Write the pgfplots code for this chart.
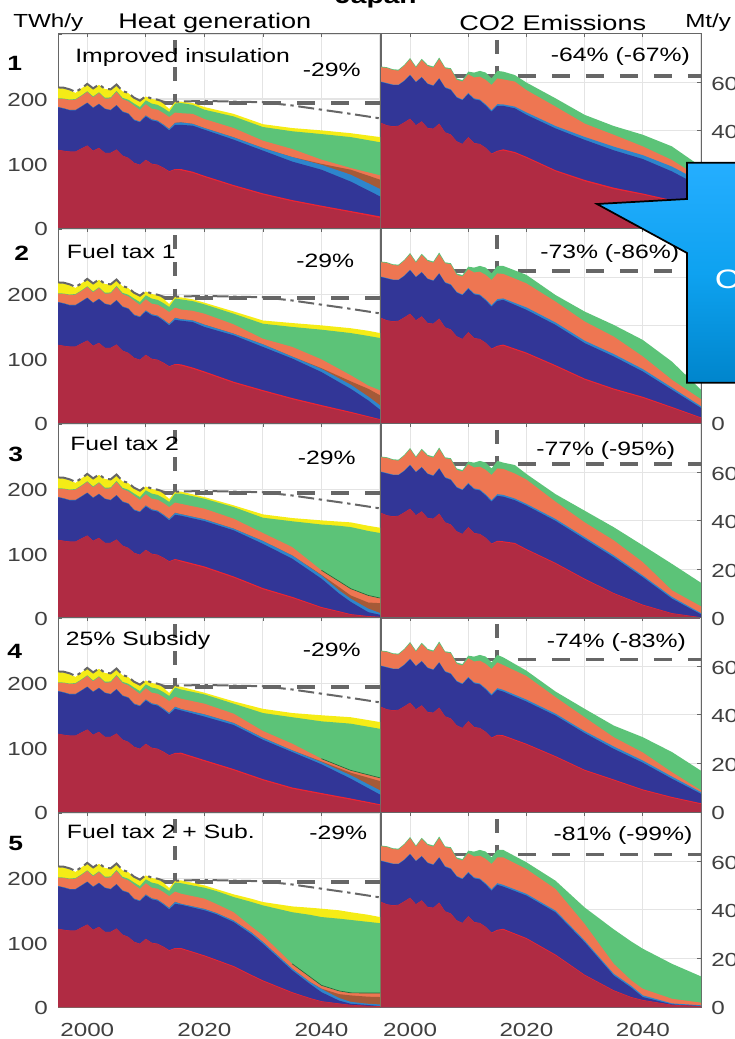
\documentclass[border=0pt]{standalone}
\usepackage{fontspec}
\setmainfont[FakeStretch=1.28]{Liberation Sans}
\usepackage{pgfplots}
\usepackage{pgfplotstable}
\pgfplotsset{compat=1.18}
\definecolor{cDR}{HTML}{B02B43}
\definecolor{cR}{HTML}{EE2433}
\definecolor{cNV}{HTML}{323697}
\definecolor{cBL}{HTML}{2E85CC}
\definecolor{cBR}{HTML}{A55A38}
\definecolor{cOR}{HTML}{EE7652}
\definecolor{cGR}{HTML}{5CC378}
\definecolor{cYE}{HTML}{F5EC16}
\definecolor{cDG}{HTML}{1E6B3A}
\definecolor{cDash}{HTML}{666666}
\definecolor{cTick}{HTML}{404040}
\definecolor{cGrid}{HTML}{E4E4E4}
\definecolor{cFrame}{HTML}{666666}
\definecolor{cBlueTop}{HTML}{25AEFF}
\definecolor{cBlueMid}{HTML}{0EA2F0}
\definecolor{cBlueBot}{HTML}{0085CC}
\def\histH{y dr r nv bl br or gr ye\\
1995 121 121.3 187 187.6 187.6 200.5 201.2 217\\
1996 119.4 119.7 185 185.6 185.6 200 200.7 216.5\\
1997 118.3 118.6 182.4 183 183 198.5 199.2 213.4\\
1998 118.3 118.6 182.4 183 183 199 200 209.5\\
1999 123 123.3 188 188.6 188.6 204.6 205.6 216.5\\
2000 127.6 127.9 193.8 194.4 194.4 210.9 212 223\\
2001 119.4 119.7 186 186.6 186.6 202.6 204 216\\
2002 124 124.3 192 192.6 192.6 209.3 210.5 222\\
2003 116.3 116.6 184.5 185.1 185.1 200.5 202 215.5\\
2004 116.3 116.6 182.4 183 183 201 202.5 214.5\\
2005 121.4 121.7 190 190.6 190.6 210.9 212.5 222\\
2006 112 112.3 180 180.8 180.8 200 202 212\\
2007 108.5 108.8 177 177.8 177.8 196.4 199 209\\
2008 100.8 101.1 167 168 168 189.7 193 201.6\\
2009 97.7 98 164 165 165 183 187.5 197\\
2010 105.4 105.8 173 174.5 174.5 192 198 204\\
2011 99.2 99.7 167 168.5 168.5 185 193 200\\
2012 97.7 98.2 165 166.5 166.5 183.5 191 198.5\\
2013 93 93.6 158.7 160.5 160.5 178.3 186 192.8\\
2014 87.3 88 151.4 153.5 153.5 172 180 184.5\\
2015 90.5 91.5 160 163 163 179 193 195.5\\
}
\def\histC{y dr r nv bl or gr\\
1995 43.2 43.3 60.1 60.3 66.2 66.5\\
1996 42.2 42.3 59.5 59.7 65.9 66.2\\
1997 41.8 41.9 58.9 59.1 65.1 65.4\\
1998 42 42.1 58.8 59 64.8 65.2\\
1999 43.4 43.5 60.5 60.7 66.8 67.2\\
2000 44.9 45 62.9 63.1 69.5 70\\
2001 42.2 42.3 60 60.2 66 66.5\\
2002 43.8 43.9 62 62.2 69.2 69.7\\
2003 41.1 41.2 59.3 59.5 66.7 67.2\\
2004 40.8 40.9 58.5 58.7 66 66.5\\
2005 42.9 43 61.5 61.7 69.5 70.2\\
2006 39.3 39.4 57.7 58 65.8 66.2\\
2007 38.4 38.5 56.8 57.1 65.3 65.8\\
2008 35.6 35.7 53.7 54 61 61.6\\
2009 34.5 34.6 52.6 52.9 60.3 60.9\\
2010 37.3 37.4 55.2 55.6 63.3 64.4\\
2011 34.9 35 53 53.4 62 64\\
2012 34.5 34.6 52.5 52.9 62.3 64.7\\
2013 32.9 33 50.4 50.9 61 64\\
2014 30.4 30.6 47.9 48.5 58.9 61.6\\
2015 31.5 31.8 50.3 51 61.6 64.7\\
}
\def\readtable#1{\pgfplotstableread[row sep=\\]{#1}\cur}
\def\lyr#1#2{\addplot[fill=#1,draw=none,forget plot] table[x=y,y=#2]{\cur} \closedcycle;}
\def\fs{\fontsize{14.2}{16}\selectfont}
\pgfplotsset{panel/.style={
  scale only axis,anchor=south west,height=146.06pt,
  xmin=1995,xmax=2050,xtick={2000,2010,2020,2030,2040,2050},
  grid=major,major grid style={cGrid,line width=0.8pt},
  tick align=inside,major tick length=3pt,tick style={cFrame,line width=0.6pt},
  axis line style={cFrame,line width=0.7pt},
  tick label style={font=\fs,text=cTick},
  xticklabel style={anchor=north,inner sep=0pt,yshift=-12pt},
  xtick pos=both,
  xticklabel pos=lower,
}}
% #1 bottom (pt), #2 x tick labels, #3 dashed level, #4 future rows, #5 extra plots
\newcommand\heat[5]{%
  \expandafter\def\expandafter\rows\expandafter{\histH #4}%
  \expandafter\readtable\expandafter{\rows}%
  \begin{axis}[panel,at={(43.5pt,#1pt)},width=241.5pt,ymin=0,ymax=302,
    ytick={0,100,200,300},yticklabels={0,100,200,},
    xticklabels={#2},ytick pos=left,
    yticklabel style={anchor=east,inner sep=0pt,xshift=-7.5pt,yshift=-1pt}]
    \addplot[cDash,line width=3.1pt,dash pattern=on 10.5pt off 9.5pt,forget plot] coordinates {(2015,291) (2015,0)};
    \addplot[cDash,line width=2.6pt,dash pattern=on 13.5pt off 12pt,forget plot] coordinates {(2001,#3) (2050,#3)};
    \lyr{cYE}{ye}\lyr{cGR}{gr}\lyr{cOR}{or}\lyr{cBR}{br}\lyr{cBL}{bl}\lyr{cNV}{nv}\lyr{cR}{r}\lyr{cDR}{dr}
    #5
    \addplot[cDash,line width=1.5pt,dash pattern=on 12pt off 3.5pt on 2.5pt off 3.5pt,forget plot] coordinates {(1995,218) (1996,217.5) (1997,215) (1998,211) (1999,216.5) (2000,223.5) (2001,216.5) (2002,222.5) (2003,216) (2004,215) (2005,222.5) (2006,212.5) (2007,209.5) (2008,202) (2009,197.5) (2010,204.5) (2011,200.5) (2012,199) (2013,196) (2014,194) (2015,196) (2020,197) (2025,196) (2030,195) (2035,190) (2040,183.5) (2045,177) (2050,170)};
  \end{axis}}
\newcommand\cotwo[4]{%
  \expandafter\def\expandafter\rows\expandafter{\histC #4}%
  \expandafter\readtable\expandafter{\rows}%
  \begin{axis}[panel,at={(285.75pt,#1pt)},width=240pt,ymin=0,ymax=80.2,
    ytick={0,20,40,60,80},yticklabels={0,20,40,60,},
    xticklabels={#2},ytick pos=right,yticklabel pos=right,
    yticklabel style={anchor=west,inner sep=0pt,xshift=7.5pt,yshift=-1pt}]
    \addplot[cDash,line width=3.1pt,dash pattern=on 10.5pt off 9.5pt,forget plot] coordinates {(2015,77.5) (2015,0)};
    \addplot[cDash,line width=2.6pt,dash pattern=on 13.5pt off 12pt,forget plot] coordinates {(2001,#3) (2050,#3)};
    \lyr{cGR}{gr}\lyr{cOR}{or}\lyr{cBL}{bl}\lyr{cNV}{nv}\lyr{cR}{r}\lyr{cDR}{dr}
  \end{axis}}
\newcommand\tx[3]{\node[anchor=base west,inner sep=0pt] at ({#1*0.75pt},{-#2*0.75pt}) {#3};}
\begin{document}
\begin{tikzpicture}
\path[clip,use as bounding box] (0,0) rectangle (551.25pt,-779.25pt);
% ---- heat generation
\heat{-171}{}{194}{2016 89.4 91.4 160 163.8 163.8 178 193.8 196\\
2018 85.3 87.3 158.7 161.5 161.5 177 191 193.8\\
2020 79 81 152.5 155 155 169 183.5 187.6\\
2025 64.6 66.6 137 140.6 140.6 155 173 177\\
2030 51.7 53.7 120 124 124 135.4 156.6 161\\
2035 41.3 43.3 103 110 110 122.5 150 155\\
2040 32.6 34.6 90.4 98 99.5 106 145.7 151.4\\
2045 24.3 26.3 72 82.7 90.4 93 141 147\\
2050 15.5 18 49 60.5 75 81.7 133 141\\
}{}
\heat{-317.25}{}{194}{2016 89 91 158.7 161 161 176 191.7 194.8\\
2018 84 86 156.6 159 159 174 189 191.8\\
2020 78 80 149 152.5 152.5 169.5 184 186.6\\
2025 62 64 136 138.5 138.5 153 169.5 173\\
2030 49 51 118 122 122 130.7 154 159\\
2035 36.7 38.7 100 103 103 118 149 155\\
2040 25.8 27.8 79 84 85 98.7 144.7 151.4\\
2045 15.5 17.3 53 59.4 64.6 74 139.5 147\\
2048 9 10.5 35 41 53 58 135 143\\
2050 5 6 20.7 27.4 43 50.6 131.8 139.5\\
}{}
\heat{-463.5}{}{194}{2016 87.3 89.3 158.7 161 161 177 192.8 196\\
2020 78 80 150.4 153 153 169.5 185 187.6\\
2025 62.5 64.5 136 138.5 138.5 154 172 174.7\\
2030 44.4 46.4 115 119.4 119.4 131.8 155.5 160.7\\
2035 31 32.8 92 97 97 110 150 155\\
2040 15.5 17 61 66 67 74 145 151.4\\
2043 9.3 10.5 38 43 48 57 143 149.5\\
2045 5 6 25 30 35 45.5 141 148.3\\
2048 2.5 3 9 14.5 24 35 135 143\\
2050 1.5 1.8 5 7.8 23 31 131.8 140\\
}{\addplot[cDG,line width=0.5pt,forget plot] coordinates {(2040,74) (2043,57) (2045,45.5) (2048,35) (2050,31)};}
\heat{-609}{}{194}{2016 90 92 157.6 159.7 159.7 175.7 190 194.3\\
2020 78.6 80.6 148 151.4 151.4 168 182.4 185\\
2025 64.6 66.6 135 138 138 152.5 168 171.6\\
2030 49 51 112 115 115 125.6 153.5 160\\
2035 36 38 93 95.6 95.6 106 147 153.5\\
2040 27.4 29.4 74 77.5 78.5 82.7 140.6 150\\
2045 19 21 51.7 57 61 64.6 137 147\\
2050 10.3 12 27 33.6 48 53 129 139.5\\
}{\addplot[cDG,line width=0.5pt,forget plot] coordinates {(2040,82.7) (2045,64.6) (2050,53)};}
\heat{-755.25}{2000,,2020,,2040,}{194}{2016 90 91.5 158.7 160 160 175.7 192 196.4\\
2020 78.6 80.1 150 152 152 168 185 188.6\\
2022 72 73.5 144 146 146 160 180 183\\
2025 62 63.5 131.8 134 134 147 170.5 174.7\\
2028 48.5 50 113 115.8 115.8 125 163 168\\
2030 39.8 41.3 98 100.8 100.8 111 157.6 162.8\\
2035 21.7 23 56.8 59.4 59.4 67 147 156\\
2038 13 14 36 39 39 47 143 154\\
2040 8.3 9 23 28 28.5 33.6 139.5 152.5\\
2043 5 5.5 10 14 20 25 137 150\\
2045 3 3.3 5 8 18 22 135 147\\
2048 1.5 1.7 3 5 16 21.7 132 143\\
2050 1 1.2 1.5 4 15.5 21.7 130 139.5\\
}{\addplot[cDG,line width=0.5pt,forget plot] coordinates {(2035,67) (2038,47) (2040,33.6) (2043,25) (2045,22) (2048,21.7) (2050,21.7)};}
% ---- CO2 emissions
\cotwo{-171}{}{62.6}{2016 31.9 32.4 50.3 50.9 61.2 64.4\\
2018 30.8 31.3 49.3 50 60.3 63\\
2020 28.8 29.3 46.6 47.6 56.8 59.9\\
2025 23.3 23.8 41 42 50 53.4\\
2030 19.2 19.8 36.3 37.5 43 46.6\\
2035 16 16.6 32 33.5 38.4 42\\
2040 13.7 14.2 28.4 30 33.6 38.4\\
2045 11 11.5 23.3 25.3 28 33.6\\
2050 8 8.4 17 19 20.5 25.3\\
}
\cotwo{-317.25}{}{62.6}{2016 31.8 32.3 50.7 51.3 61.4 64.7\\
2020 28.5 29 46.6 47.6 57.5 61\\
2025 23.3 23.8 40.4 41.4 50 52.7\\
2030 17.8 18.3 32.9 33.9 41.8 45.9\\
2035 13.7 14.2 27.4 28.4 35.6 40.4\\
2040 10.3 10.8 21.2 22.2 27.4 34.2\\
2045 6.2 6.6 13.7 14.6 17.8 25.3\\
2050 2 2.3 6.2 6.9 9.8 13.7\\
}
\cotwo{-463.5}{}{63.4}{2016 31.2 31.6 50 50.7 61.4 64\\
2018 30.5 30.9 48.5 49.2 59.5 63\\
2020 28 28.4 46.3 47 57 59.3\\
2025 22.3 22.7 40 40.8 47.9 51\\
2030 15.8 16.2 32.5 33.3 39.4 44.2\\
2035 10 10.3 25 25.8 32 37.4\\
2040 5.2 5.5 16.8 17.5 23 29.9\\
2045 1.8 2 8 8.7 11.4 22.3\\
2050 0.2 0.3 1.5 2 4.8 14.5\\
}
\cotwo{-609}{}{62.7}{2016 31.2 31.6 49.6 50.3 60.5 63.7\\
2020 27.7 28.1 45.5 46.3 56 58.2\\
2025 22.6 23 39.7 40.5 47.3 49.6\\
2030 17 17.4 32.5 33.3 39 42.5\\
2035 13 13.4 26 27 30.8 35.6\\
2040 8.9 9.3 20.3 21.2 24.5 30.8\\
2045 5.8 6.2 13.7 14.6 16.4 24.7\\
2050 3.2 3.6 7.5 8.2 8.9 17\\
}
\cotwo{-755.25}{2000,,2020,,2040,}{62.7}{2016 31.8 32.2 49.6 50.3 61.6 64.7\\
2020 28 28.4 45.9 46.6 56.8 59.6\\
2025 21.2 21.6 39 39.7 48.6 52\\
2030 13 13.3 26.7 27.4 34.2 41\\
2035 6.6 6.9 13 13.7 17.8 32\\
2038 3.9 4.1 8 8.7 11 27\\
2040 2.7 2.9 4.1 4.8 7.5 24\\
2045 0.8 0.9 1.1 1.5 3.4 17.8\\
2050 0.3 0.35 0.4 0.7 1.8 12.6\\
}
% ---- texts
\fs
\tx{13}{27}{TWh/y}
\tx{118}{28.3}{\fontsize{15.9}{18}\selectfont Heat generation}
\tx{459}{30}{\fontsize{15.9}{18}\selectfont CO2 Emissions}
\tx{685}{27}{Mt/y}
\tx{335}{3}{\fontsize{16.5}{18}\selectfont\bfseries Japan}
\tx{7}{70}{\fontsize{15.5}{18}\selectfont\bfseries 1}
\tx{14}{260}{\fontsize{15.5}{18}\selectfont\bfseries 2}
\tx{8}{461.7}{\fontsize{15.5}{18}\selectfont\bfseries 3}
\tx{7}{658}{\fontsize{15.5}{18}\selectfont\bfseries 4}
\tx{8}{850.7}{\fontsize{15.5}{18}\selectfont\bfseries 5}
\fontsize{14.5}{16}\selectfont
\tx{75}{62.7}{Improved insulation}
\tx{66.7}{258.3}{Fuel tax 1}
\tx{70}{450.7}{Fuel tax 2}
\tx{65.7}{645.7}{25\% Subsidy}
\tx{66.7}{838.3}{Fuel tax 2 + Sub.}
\tx{302.7}{76.7}{-29\%}
\tx{296}{267.7}{-29\%}
\tx{297.7}{464.3}{-29\%}
\tx{302.7}{656.7}{-29\%}
\tx{309}{839.3}{-29\%}
\tx{550.7}{61.7}{-64\% (-67\%)}
\tx{540}{258.3}{-73\% (-86\%)}
\tx{536}{455.7}{-77\% (-95\%)}
\tx{546.7}{647.3}{-74\% (-83\%)}
\tx{553.3}{840}{-81\% (-99\%)}
% ---- callout
\draw[black,line width=1.3pt,top color=cBlueTop,bottom color=cBlueBot,middle color=cBlueMid]
  (515.25pt,-122pt) -- (560pt,-122pt) -- (560pt,-287pt) -- (515.25pt,-287pt) -- (515.25pt,-189.75pt) -- (447.75pt,-153pt) -- (515.25pt,-149.25pt) -- cycle;
\node[anchor=base west,inner sep=0pt,text=white] at (536pt,-216pt) {\fontsize{20}{22}\selectfont C};
\end{tikzpicture}
\end{document}
